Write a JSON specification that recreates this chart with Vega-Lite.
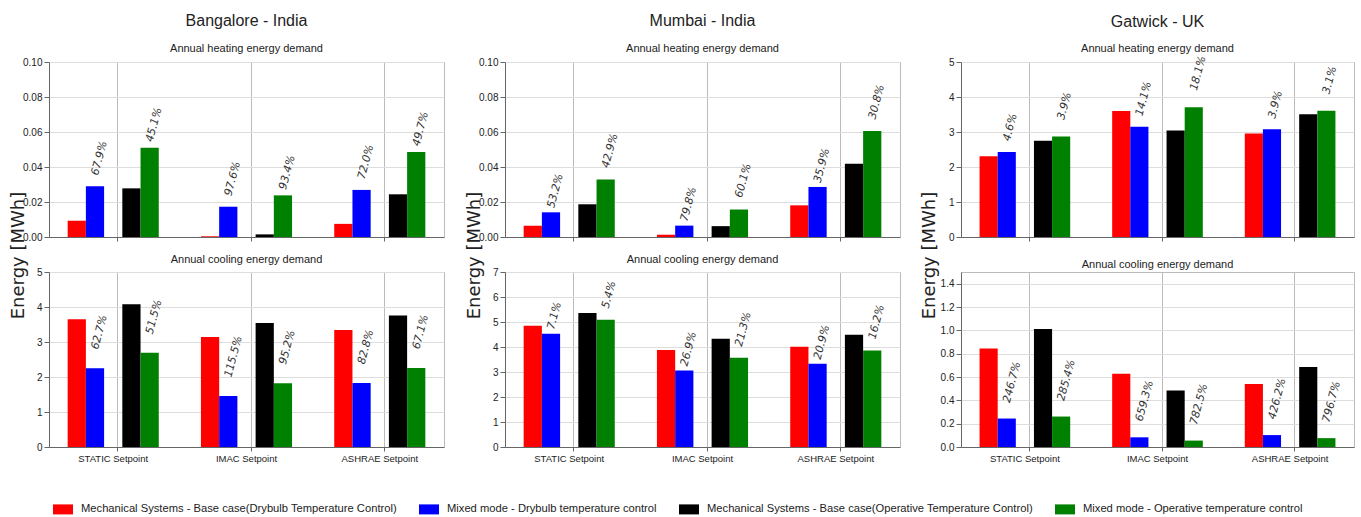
{
  "$schema": "https://vega.github.io/schema/vega-lite/v6.json",
  "padding": {"left": 8, "top": 12, "right": 5, "bottom": 0},
  "background": "white",
  "config": {
    "view": {"stroke": "#bbb", "strokeWidth": 1},
    "font": "Liberation Sans",
    "axis": {"labelFont": "Liberation Sans", "labelFontSize": 10, "labelColor": "#222", "domainColor": "#666", "tickColor": "#666", "gridColor": "#ddd", "tickSize": 5, "labelPadding": 2, "titleFont": "DejaVu Sans", "titleFontWeight": "normal", "titleFontSize": 18, "titleColor": "#222"},
    "axisX": {"labelFontSize": 9.5, "labelAngle": 0, "gridColor": "#bbb", "bandPosition": 0.55, "tickSize": 4},
    "title": {"font": "Liberation Sans", "fontWeight": "normal", "color": "#222", "subtitleFont": "Liberation Sans", "subtitleColor": "#222"},
    "legend": {"orient": "none", "legendX": 4, "legendY": 437, "direction": "horizontal", "columns": 4, "symbolSize": 400, "symbolStrokeWidth": 0, "labelFont": "Liberation Sans", "labelFontSize": 11.2, "labelColor": "#222", "labelLimit": 600, "labelOffset": 8, "columnPadding": 22, "padding": 0}
  },
  "data": {"values": [
    {"city": "Bangalore", "demand": "heating", "setpoint": "STATIC Setpoint", "series": "Mechanical Systems - Base case(Drybulb Temperature Control)", "value": 0.0093, "label": null},
    {"city": "Bangalore", "demand": "heating", "setpoint": "STATIC Setpoint", "series": "Mixed mode - Drybulb temperature control", "value": 0.029, "label": "67.9%"},
    {"city": "Bangalore", "demand": "heating", "setpoint": "STATIC Setpoint", "series": "Mechanical Systems - Base case(Operative Temperature Control)", "value": 0.0278, "label": null},
    {"city": "Bangalore", "demand": "heating", "setpoint": "STATIC Setpoint", "series": "Mixed mode - Operative temperature control", "value": 0.051, "label": "45.1%"},
    {"city": "Bangalore", "demand": "heating", "setpoint": "IMAC Setpoint", "series": "Mechanical Systems - Base case(Drybulb Temperature Control)", "value": 0.0004, "label": null},
    {"city": "Bangalore", "demand": "heating", "setpoint": "IMAC Setpoint", "series": "Mixed mode - Drybulb temperature control", "value": 0.0173, "label": "97.6%"},
    {"city": "Bangalore", "demand": "heating", "setpoint": "IMAC Setpoint", "series": "Mechanical Systems - Base case(Operative Temperature Control)", "value": 0.0015, "label": null},
    {"city": "Bangalore", "demand": "heating", "setpoint": "IMAC Setpoint", "series": "Mixed mode - Operative temperature control", "value": 0.0238, "label": "93.4%"},
    {"city": "Bangalore", "demand": "heating", "setpoint": "ASHRAE Setpoint", "series": "Mechanical Systems - Base case(Drybulb Temperature Control)", "value": 0.0075, "label": null},
    {"city": "Bangalore", "demand": "heating", "setpoint": "ASHRAE Setpoint", "series": "Mixed mode - Drybulb temperature control", "value": 0.0269, "label": "72.0%"},
    {"city": "Bangalore", "demand": "heating", "setpoint": "ASHRAE Setpoint", "series": "Mechanical Systems - Base case(Operative Temperature Control)", "value": 0.0244, "label": null},
    {"city": "Bangalore", "demand": "heating", "setpoint": "ASHRAE Setpoint", "series": "Mixed mode - Operative temperature control", "value": 0.0486, "label": "49.7%"},
    {"city": "Bangalore", "demand": "cooling", "setpoint": "STATIC Setpoint", "series": "Mechanical Systems - Base case(Drybulb Temperature Control)", "value": 3.65, "label": null},
    {"city": "Bangalore", "demand": "cooling", "setpoint": "STATIC Setpoint", "series": "Mixed mode - Drybulb temperature control", "value": 2.25, "label": "62.7%"},
    {"city": "Bangalore", "demand": "cooling", "setpoint": "STATIC Setpoint", "series": "Mechanical Systems - Base case(Operative Temperature Control)", "value": 4.08, "label": null},
    {"city": "Bangalore", "demand": "cooling", "setpoint": "STATIC Setpoint", "series": "Mixed mode - Operative temperature control", "value": 2.69, "label": "51.5%"},
    {"city": "Bangalore", "demand": "cooling", "setpoint": "IMAC Setpoint", "series": "Mechanical Systems - Base case(Drybulb Temperature Control)", "value": 3.14, "label": null},
    {"city": "Bangalore", "demand": "cooling", "setpoint": "IMAC Setpoint", "series": "Mixed mode - Drybulb temperature control", "value": 1.46, "label": "115.5%"},
    {"city": "Bangalore", "demand": "cooling", "setpoint": "IMAC Setpoint", "series": "Mechanical Systems - Base case(Operative Temperature Control)", "value": 3.54, "label": null},
    {"city": "Bangalore", "demand": "cooling", "setpoint": "IMAC Setpoint", "series": "Mixed mode - Operative temperature control", "value": 1.82, "label": "95.2%"},
    {"city": "Bangalore", "demand": "cooling", "setpoint": "ASHRAE Setpoint", "series": "Mechanical Systems - Base case(Drybulb Temperature Control)", "value": 3.34, "label": null},
    {"city": "Bangalore", "demand": "cooling", "setpoint": "ASHRAE Setpoint", "series": "Mixed mode - Drybulb temperature control", "value": 1.83, "label": "82.8%"},
    {"city": "Bangalore", "demand": "cooling", "setpoint": "ASHRAE Setpoint", "series": "Mechanical Systems - Base case(Operative Temperature Control)", "value": 3.76, "label": null},
    {"city": "Bangalore", "demand": "cooling", "setpoint": "ASHRAE Setpoint", "series": "Mixed mode - Operative temperature control", "value": 2.26, "label": "67.1%"},
    {"city": "Mumbai", "demand": "heating", "setpoint": "STATIC Setpoint", "series": "Mechanical Systems - Base case(Drybulb Temperature Control)", "value": 0.0065, "label": null},
    {"city": "Mumbai", "demand": "heating", "setpoint": "STATIC Setpoint", "series": "Mixed mode - Drybulb temperature control", "value": 0.0141, "label": "53.2%"},
    {"city": "Mumbai", "demand": "heating", "setpoint": "STATIC Setpoint", "series": "Mechanical Systems - Base case(Operative Temperature Control)", "value": 0.0187, "label": null},
    {"city": "Mumbai", "demand": "heating", "setpoint": "STATIC Setpoint", "series": "Mixed mode - Operative temperature control", "value": 0.0328, "label": "42.9%"},
    {"city": "Mumbai", "demand": "heating", "setpoint": "IMAC Setpoint", "series": "Mechanical Systems - Base case(Drybulb Temperature Control)", "value": 0.0013, "label": null},
    {"city": "Mumbai", "demand": "heating", "setpoint": "IMAC Setpoint", "series": "Mixed mode - Drybulb temperature control", "value": 0.0065, "label": "79.8%"},
    {"city": "Mumbai", "demand": "heating", "setpoint": "IMAC Setpoint", "series": "Mechanical Systems - Base case(Operative Temperature Control)", "value": 0.0062, "label": null},
    {"city": "Mumbai", "demand": "heating", "setpoint": "IMAC Setpoint", "series": "Mixed mode - Operative temperature control", "value": 0.0157, "label": "60.1%"},
    {"city": "Mumbai", "demand": "heating", "setpoint": "ASHRAE Setpoint", "series": "Mechanical Systems - Base case(Drybulb Temperature Control)", "value": 0.0181, "label": null},
    {"city": "Mumbai", "demand": "heating", "setpoint": "ASHRAE Setpoint", "series": "Mixed mode - Drybulb temperature control", "value": 0.0286, "label": "35.9%"},
    {"city": "Mumbai", "demand": "heating", "setpoint": "ASHRAE Setpoint", "series": "Mechanical Systems - Base case(Operative Temperature Control)", "value": 0.0419, "label": null},
    {"city": "Mumbai", "demand": "heating", "setpoint": "ASHRAE Setpoint", "series": "Mixed mode - Operative temperature control", "value": 0.0606, "label": "30.8%"},
    {"city": "Mumbai", "demand": "cooling", "setpoint": "STATIC Setpoint", "series": "Mechanical Systems - Base case(Drybulb Temperature Control)", "value": 4.85, "label": null},
    {"city": "Mumbai", "demand": "cooling", "setpoint": "STATIC Setpoint", "series": "Mixed mode - Drybulb temperature control", "value": 4.53, "label": "7.1%"},
    {"city": "Mumbai", "demand": "cooling", "setpoint": "STATIC Setpoint", "series": "Mechanical Systems - Base case(Operative Temperature Control)", "value": 5.36, "label": null},
    {"city": "Mumbai", "demand": "cooling", "setpoint": "STATIC Setpoint", "series": "Mixed mode - Operative temperature control", "value": 5.09, "label": "5.4%"},
    {"city": "Mumbai", "demand": "cooling", "setpoint": "IMAC Setpoint", "series": "Mechanical Systems - Base case(Drybulb Temperature Control)", "value": 3.88, "label": null},
    {"city": "Mumbai", "demand": "cooling", "setpoint": "IMAC Setpoint", "series": "Mixed mode - Drybulb temperature control", "value": 3.06, "label": "26.9%"},
    {"city": "Mumbai", "demand": "cooling", "setpoint": "IMAC Setpoint", "series": "Mechanical Systems - Base case(Operative Temperature Control)", "value": 4.33, "label": null},
    {"city": "Mumbai", "demand": "cooling", "setpoint": "IMAC Setpoint", "series": "Mixed mode - Operative temperature control", "value": 3.57, "label": "21.3%"},
    {"city": "Mumbai", "demand": "cooling", "setpoint": "ASHRAE Setpoint", "series": "Mechanical Systems - Base case(Drybulb Temperature Control)", "value": 4.01, "label": null},
    {"city": "Mumbai", "demand": "cooling", "setpoint": "ASHRAE Setpoint", "series": "Mixed mode - Drybulb temperature control", "value": 3.33, "label": "20.9%"},
    {"city": "Mumbai", "demand": "cooling", "setpoint": "ASHRAE Setpoint", "series": "Mechanical Systems - Base case(Operative Temperature Control)", "value": 4.49, "label": null},
    {"city": "Mumbai", "demand": "cooling", "setpoint": "ASHRAE Setpoint", "series": "Mixed mode - Operative temperature control", "value": 3.86, "label": "16.2%"},
    {"city": "Gatwick", "demand": "heating", "setpoint": "STATIC Setpoint", "series": "Mechanical Systems - Base case(Drybulb Temperature Control)", "value": 2.31, "label": null},
    {"city": "Gatwick", "demand": "heating", "setpoint": "STATIC Setpoint", "series": "Mixed mode - Drybulb temperature control", "value": 2.43, "label": "4.6%"},
    {"city": "Gatwick", "demand": "heating", "setpoint": "STATIC Setpoint", "series": "Mechanical Systems - Base case(Operative Temperature Control)", "value": 2.75, "label": null},
    {"city": "Gatwick", "demand": "heating", "setpoint": "STATIC Setpoint", "series": "Mixed mode - Operative temperature control", "value": 2.87, "label": "3.9%"},
    {"city": "Gatwick", "demand": "heating", "setpoint": "IMAC Setpoint", "series": "Mechanical Systems - Base case(Drybulb Temperature Control)", "value": 3.6, "label": null},
    {"city": "Gatwick", "demand": "heating", "setpoint": "IMAC Setpoint", "series": "Mixed mode - Drybulb temperature control", "value": 3.15, "label": "14.1%"},
    {"city": "Gatwick", "demand": "heating", "setpoint": "IMAC Setpoint", "series": "Mechanical Systems - Base case(Operative Temperature Control)", "value": 3.04, "label": null},
    {"city": "Gatwick", "demand": "heating", "setpoint": "IMAC Setpoint", "series": "Mixed mode - Operative temperature control", "value": 3.71, "label": "18.1%"},
    {"city": "Gatwick", "demand": "heating", "setpoint": "ASHRAE Setpoint", "series": "Mechanical Systems - Base case(Drybulb Temperature Control)", "value": 2.96, "label": null},
    {"city": "Gatwick", "demand": "heating", "setpoint": "ASHRAE Setpoint", "series": "Mixed mode - Drybulb temperature control", "value": 3.08, "label": "3.9%"},
    {"city": "Gatwick", "demand": "heating", "setpoint": "ASHRAE Setpoint", "series": "Mechanical Systems - Base case(Operative Temperature Control)", "value": 3.51, "label": null},
    {"city": "Gatwick", "demand": "heating", "setpoint": "ASHRAE Setpoint", "series": "Mixed mode - Operative temperature control", "value": 3.61, "label": "3.1%"},
    {"city": "Gatwick", "demand": "cooling", "setpoint": "STATIC Setpoint", "series": "Mechanical Systems - Base case(Drybulb Temperature Control)", "value": 0.845, "label": null},
    {"city": "Gatwick", "demand": "cooling", "setpoint": "STATIC Setpoint", "series": "Mixed mode - Drybulb temperature control", "value": 0.244, "label": "246.7%"},
    {"city": "Gatwick", "demand": "cooling", "setpoint": "STATIC Setpoint", "series": "Mechanical Systems - Base case(Operative Temperature Control)", "value": 1.011, "label": null},
    {"city": "Gatwick", "demand": "cooling", "setpoint": "STATIC Setpoint", "series": "Mixed mode - Operative temperature control", "value": 0.261, "label": "285.4%"},
    {"city": "Gatwick", "demand": "cooling", "setpoint": "IMAC Setpoint", "series": "Mechanical Systems - Base case(Drybulb Temperature Control)", "value": 0.627, "label": null},
    {"city": "Gatwick", "demand": "cooling", "setpoint": "IMAC Setpoint", "series": "Mixed mode - Drybulb temperature control", "value": 0.083, "label": "659.3%"},
    {"city": "Gatwick", "demand": "cooling", "setpoint": "IMAC Setpoint", "series": "Mechanical Systems - Base case(Operative Temperature Control)", "value": 0.485, "label": null},
    {"city": "Gatwick", "demand": "cooling", "setpoint": "IMAC Setpoint", "series": "Mixed mode - Operative temperature control", "value": 0.055, "label": "782.5%"},
    {"city": "Gatwick", "demand": "cooling", "setpoint": "ASHRAE Setpoint", "series": "Mechanical Systems - Base case(Drybulb Temperature Control)", "value": 0.539, "label": null},
    {"city": "Gatwick", "demand": "cooling", "setpoint": "ASHRAE Setpoint", "series": "Mixed mode - Drybulb temperature control", "value": 0.102, "label": "426.2%"},
    {"city": "Gatwick", "demand": "cooling", "setpoint": "ASHRAE Setpoint", "series": "Mechanical Systems - Base case(Operative Temperature Control)", "value": 0.685, "label": null},
    {"city": "Gatwick", "demand": "cooling", "setpoint": "ASHRAE Setpoint", "series": "Mixed mode - Operative temperature control", "value": 0.076, "label": "796.7%"}
  ]},
  "columns": 3,
  "spacing": {"row": 35, "column": 61},
  "bounds": "flush",
  "resolve": {"scale": {"x": "independent", "y": "independent", "xOffset": "independent", "color": "shared"}, "axis": {"x": "independent", "y": "independent"}, "legend": {"color": "shared"}},
  "concat": [
    {
      "title": {"text": "Bangalore - India", "subtitle": "Annual heating energy demand", "fontSize": 16, "subtitleFontSize": 11, "subtitlePadding": 13.5, "offset": 3.5},
      "width": 395, "height": 175,
      "transform": [{"filter": "datum.city === 'Bangalore' && datum.demand === 'heating'"}],
      "encoding": {
        "x": {"field": "setpoint", "type": "nominal", "scale": {"domain": ["STATIC Setpoint", "IMAC Setpoint", "ASHRAE Setpoint"], "paddingInner": 0.3165, "paddingOuter": 0.14}, "axis": {"labels": false, "title": null, "grid": true}},
        "xOffset": {"field": "series", "type": "nominal", "scale": {"domain": ["Mechanical Systems - Base case(Drybulb Temperature Control)", "Mixed mode - Drybulb temperature control", "gap", "Mechanical Systems - Base case(Operative Temperature Control)", "Mixed mode - Operative temperature control"]}},
        "y": {"field": "value", "type": "quantitative", "scale": {"domain": [0, 0.1], "nice": false}, "axis": {"values": [0, 0.02, 0.04, 0.06, 0.08, 0.1], "format": ".2f", "title": "Energy [MWh]", "titleX": -26, "titleY": 193, "titleAngle": 270, "titleAlign": "center", "titleBaseline": "alphabetic"}}
      },
      "layer": [
        {"mark": {"type": "bar"}, "encoding": {"color": {"field": "series", "type": "nominal", "scale": {"domain": ["Mechanical Systems - Base case(Drybulb Temperature Control)", "Mixed mode - Drybulb temperature control", "Mechanical Systems - Base case(Operative Temperature Control)", "Mixed mode - Operative temperature control"], "range": ["#ff0000", "#0000ff", "#000000", "#008000"]}, "legend": {"title": null, "symbolType": "M-1,-0.5H1V0.5H-1Z", "encode": {"symbols": {"update": {"fill": {"signal": "datum.label === 'Mixed mode - Operative temperature control' ? '#00b050' : scale('color', datum.value)"}}}}}}}},
        {"transform": [{"filter": "datum.series === 'Mixed mode - Drybulb temperature control'"}], "mark": {"type": "text", "angle": 285, "align": "left", "baseline": "middle", "font": "DejaVu Sans", "fontStyle": "italic", "fontSize": 11, "color": "#333", "yOffset": -11}, "encoding": {"text": {"field": "label"}}},
        {"transform": [{"filter": "datum.series === 'Mixed mode - Operative temperature control'"}], "mark": {"type": "text", "angle": 285, "align": "left", "baseline": "middle", "font": "DejaVu Sans", "fontStyle": "italic", "fontSize": 11, "color": "#333", "yOffset": -6}, "encoding": {"text": {"field": "label"}}}
      ]
    },
    {
      "title": {"text": "Mumbai - India", "subtitle": "Annual heating energy demand", "fontSize": 16, "subtitleFontSize": 11, "subtitlePadding": 13.5, "offset": 3.5},
      "width": 395, "height": 175,
      "transform": [{"filter": "datum.city === 'Mumbai' && datum.demand === 'heating'"}],
      "encoding": {
        "x": {"field": "setpoint", "type": "nominal", "scale": {"domain": ["STATIC Setpoint", "IMAC Setpoint", "ASHRAE Setpoint"], "paddingInner": 0.3165, "paddingOuter": 0.14}, "axis": {"labels": false, "title": null, "grid": true}},
        "xOffset": {"field": "series", "type": "nominal", "scale": {"domain": ["Mechanical Systems - Base case(Drybulb Temperature Control)", "Mixed mode - Drybulb temperature control", "gap", "Mechanical Systems - Base case(Operative Temperature Control)", "Mixed mode - Operative temperature control"]}},
        "y": {"field": "value", "type": "quantitative", "scale": {"domain": [0, 0.1], "nice": false}, "axis": {"values": [0, 0.02, 0.04, 0.06, 0.08, 0.1], "format": ".2f", "title": "Energy [MWh]", "titleX": -26, "titleY": 193, "titleAngle": 270, "titleAlign": "center", "titleBaseline": "alphabetic"}}
      },
      "layer": [
        {"mark": {"type": "bar"}, "encoding": {"color": {"field": "series", "type": "nominal", "scale": {"domain": ["Mechanical Systems - Base case(Drybulb Temperature Control)", "Mixed mode - Drybulb temperature control", "Mechanical Systems - Base case(Operative Temperature Control)", "Mixed mode - Operative temperature control"], "range": ["#ff0000", "#0000ff", "#000000", "#008000"]}, "legend": {"title": null, "symbolType": "M-1,-0.5H1V0.5H-1Z", "encode": {"symbols": {"update": {"fill": {"signal": "datum.label === 'Mixed mode - Operative temperature control' ? '#00b050' : scale('color', datum.value)"}}}}}}}},
        {"transform": [{"filter": "datum.series === 'Mixed mode - Drybulb temperature control'"}], "mark": {"type": "text", "angle": 285, "align": "left", "baseline": "middle", "font": "DejaVu Sans", "fontStyle": "italic", "fontSize": 11, "color": "#333", "yOffset": -4.5}, "encoding": {"text": {"field": "label"}}},
        {"transform": [{"filter": "datum.series === 'Mixed mode - Operative temperature control'"}], "mark": {"type": "text", "angle": 285, "align": "left", "baseline": "middle", "font": "DejaVu Sans", "fontStyle": "italic", "fontSize": 11, "color": "#333", "yOffset": -12}, "encoding": {"text": {"field": "label"}}}
      ]
    },
    {
      "title": {"text": "Gatwick - UK", "subtitle": "Annual heating energy demand", "fontSize": 16, "subtitleFontSize": 11, "subtitlePadding": 13.5, "offset": 3.5, "dy": 3},
      "width": 393, "height": 175,
      "transform": [{"filter": "datum.city === 'Gatwick' && datum.demand === 'heating'"}],
      "encoding": {
        "x": {"field": "setpoint", "type": "nominal", "scale": {"domain": ["STATIC Setpoint", "IMAC Setpoint", "ASHRAE Setpoint"], "paddingInner": 0.3165, "paddingOuter": 0.14}, "axis": {"labels": false, "title": null, "grid": true}},
        "xOffset": {"field": "series", "type": "nominal", "scale": {"domain": ["Mechanical Systems - Base case(Drybulb Temperature Control)", "Mixed mode - Drybulb temperature control", "gap", "Mechanical Systems - Base case(Operative Temperature Control)", "Mixed mode - Operative temperature control"]}},
        "y": {"field": "value", "type": "quantitative", "scale": {"domain": [0, 5], "nice": false}, "axis": {"values": [0, 1, 2, 3, 4, 5], "title": "Energy [MWh]", "titleX": -27, "titleY": 193, "titleAngle": 270, "titleAlign": "center", "titleBaseline": "alphabetic"}}
      },
      "layer": [
        {"mark": {"type": "bar"}, "encoding": {"color": {"field": "series", "type": "nominal", "scale": {"domain": ["Mechanical Systems - Base case(Drybulb Temperature Control)", "Mixed mode - Drybulb temperature control", "Mechanical Systems - Base case(Operative Temperature Control)", "Mixed mode - Operative temperature control"], "range": ["#ff0000", "#0000ff", "#000000", "#008000"]}, "legend": {"title": null, "symbolType": "M-1,-0.5H1V0.5H-1Z", "encode": {"symbols": {"update": {"fill": {"signal": "datum.label === 'Mixed mode - Operative temperature control' ? '#00b050' : scale('color', datum.value)"}}}}}}}},
        {"transform": [{"filter": "datum.series === 'Mixed mode - Drybulb temperature control'"}], "mark": {"type": "text", "angle": 285, "align": "left", "baseline": "middle", "font": "DejaVu Sans", "fontStyle": "italic", "fontSize": 11, "color": "#333", "yOffset": -11}, "encoding": {"text": {"field": "label"}}},
        {"transform": [{"filter": "datum.series === 'Mixed mode - Operative temperature control'"}], "mark": {"type": "text", "angle": 285, "align": "left", "baseline": "middle", "font": "DejaVu Sans", "fontStyle": "italic", "fontSize": 11, "color": "#333", "yOffset": -17}, "encoding": {"text": {"field": "label"}}}
      ]
    },
    {
      "title": {"text": "Annual cooling energy demand", "fontSize": 11, "offset": 2},
      "width": 395, "height": 175,
      "transform": [{"filter": "datum.city === 'Bangalore' && datum.demand === 'cooling'"}],
      "encoding": {
        "x": {"field": "setpoint", "type": "nominal", "scale": {"domain": ["STATIC Setpoint", "IMAC Setpoint", "ASHRAE Setpoint"], "paddingInner": 0.3165, "paddingOuter": 0.14}, "axis": {"title": null, "grid": true}},
        "xOffset": {"field": "series", "type": "nominal", "scale": {"domain": ["Mechanical Systems - Base case(Drybulb Temperature Control)", "Mixed mode - Drybulb temperature control", "gap", "Mechanical Systems - Base case(Operative Temperature Control)", "Mixed mode - Operative temperature control"]}},
        "y": {"field": "value", "type": "quantitative", "scale": {"domain": [0, 5], "nice": false}, "axis": {"values": [0, 1, 2, 3, 4, 5], "title": null}}
      },
      "layer": [
        {"mark": {"type": "bar"}, "encoding": {"color": {"field": "series", "type": "nominal", "scale": {"domain": ["Mechanical Systems - Base case(Drybulb Temperature Control)", "Mixed mode - Drybulb temperature control", "Mechanical Systems - Base case(Operative Temperature Control)", "Mixed mode - Operative temperature control"], "range": ["#ff0000", "#0000ff", "#000000", "#008000"]}, "legend": {"title": null, "symbolType": "M-1,-0.5H1V0.5H-1Z", "encode": {"symbols": {"update": {"fill": {"signal": "datum.label === 'Mixed mode - Operative temperature control' ? '#00b050' : scale('color', datum.value)"}}}}}}}},
        {"transform": [{"filter": "datum.label != null"}], "mark": {"type": "text", "angle": 285, "align": "left", "baseline": "middle", "font": "DejaVu Sans", "fontStyle": "italic", "fontSize": 11, "color": "#333", "yOffset": -19}, "encoding": {"text": {"field": "label"}}}
      ]
    },
    {
      "title": {"text": "Annual cooling energy demand", "fontSize": 11, "offset": 2},
      "width": 395, "height": 175,
      "transform": [{"filter": "datum.city === 'Mumbai' && datum.demand === 'cooling'"}],
      "encoding": {
        "x": {"field": "setpoint", "type": "nominal", "scale": {"domain": ["STATIC Setpoint", "IMAC Setpoint", "ASHRAE Setpoint"], "paddingInner": 0.3165, "paddingOuter": 0.14}, "axis": {"title": null, "grid": true}},
        "xOffset": {"field": "series", "type": "nominal", "scale": {"domain": ["Mechanical Systems - Base case(Drybulb Temperature Control)", "Mixed mode - Drybulb temperature control", "gap", "Mechanical Systems - Base case(Operative Temperature Control)", "Mixed mode - Operative temperature control"]}},
        "y": {"field": "value", "type": "quantitative", "scale": {"domain": [0, 7], "nice": false}, "axis": {"values": [0, 1, 2, 3, 4, 5, 6, 7], "title": null}}
      },
      "layer": [
        {"mark": {"type": "bar"}, "encoding": {"color": {"field": "series", "type": "nominal", "scale": {"domain": ["Mechanical Systems - Base case(Drybulb Temperature Control)", "Mixed mode - Drybulb temperature control", "Mechanical Systems - Base case(Operative Temperature Control)", "Mixed mode - Operative temperature control"], "range": ["#ff0000", "#0000ff", "#000000", "#008000"]}, "legend": {"title": null, "symbolType": "M-1,-0.5H1V0.5H-1Z", "encode": {"symbols": {"update": {"fill": {"signal": "datum.label === 'Mixed mode - Operative temperature control' ? '#00b050' : scale('color', datum.value)"}}}}}}}},
        {"transform": [{"filter": "datum.series === 'Mixed mode - Drybulb temperature control'"}], "mark": {"type": "text", "angle": 285, "align": "left", "baseline": "middle", "font": "DejaVu Sans", "fontStyle": "italic", "fontSize": 11, "color": "#333", "yOffset": -4.5}, "encoding": {"text": {"field": "label"}}},
        {"transform": [{"filter": "datum.series === 'Mixed mode - Operative temperature control'"}], "mark": {"type": "text", "angle": 285, "align": "left", "baseline": "middle", "font": "DejaVu Sans", "fontStyle": "italic", "fontSize": 11, "color": "#333", "yOffset": -11.5}, "encoding": {"text": {"field": "label"}}}
      ]
    },
    {
      "title": {"text": "Annual cooling energy demand", "fontSize": 11, "offset": 2},
      "width": 393, "height": 175,
      "transform": [{"filter": "datum.city === 'Gatwick' && datum.demand === 'cooling'"}],
      "encoding": {
        "x": {"field": "setpoint", "type": "nominal", "scale": {"domain": ["STATIC Setpoint", "IMAC Setpoint", "ASHRAE Setpoint"], "paddingInner": 0.3165, "paddingOuter": 0.14}, "axis": {"title": null, "grid": true}},
        "xOffset": {"field": "series", "type": "nominal", "scale": {"domain": ["Mechanical Systems - Base case(Drybulb Temperature Control)", "Mixed mode - Drybulb temperature control", "gap", "Mechanical Systems - Base case(Operative Temperature Control)", "Mixed mode - Operative temperature control"]}},
        "y": {"field": "value", "type": "quantitative", "scale": {"domain": [0, 1.5], "nice": false}, "axis": {"values": [0, 0.2, 0.4, 0.6, 0.8, 1.0, 1.2, 1.4], "format": ".1f", "title": null}}
      },
      "layer": [
        {"mark": {"type": "bar"}, "encoding": {"color": {"field": "series", "type": "nominal", "scale": {"domain": ["Mechanical Systems - Base case(Drybulb Temperature Control)", "Mixed mode - Drybulb temperature control", "Mechanical Systems - Base case(Operative Temperature Control)", "Mixed mode - Operative temperature control"], "range": ["#ff0000", "#0000ff", "#000000", "#008000"]}, "legend": {"title": null, "symbolType": "M-1,-0.5H1V0.5H-1Z", "encode": {"symbols": {"update": {"fill": {"signal": "datum.label === 'Mixed mode - Operative temperature control' ? '#00b050' : scale('color', datum.value)"}}}}}}}},
        {"transform": [{"filter": "datum.label != null"}], "mark": {"type": "text", "angle": 285, "align": "left", "baseline": "middle", "font": "DejaVu Sans", "fontStyle": "italic", "fontSize": 11, "color": "#333", "yOffset": -16}, "encoding": {"text": {"field": "label"}}}
      ]
    }
  ]
}
